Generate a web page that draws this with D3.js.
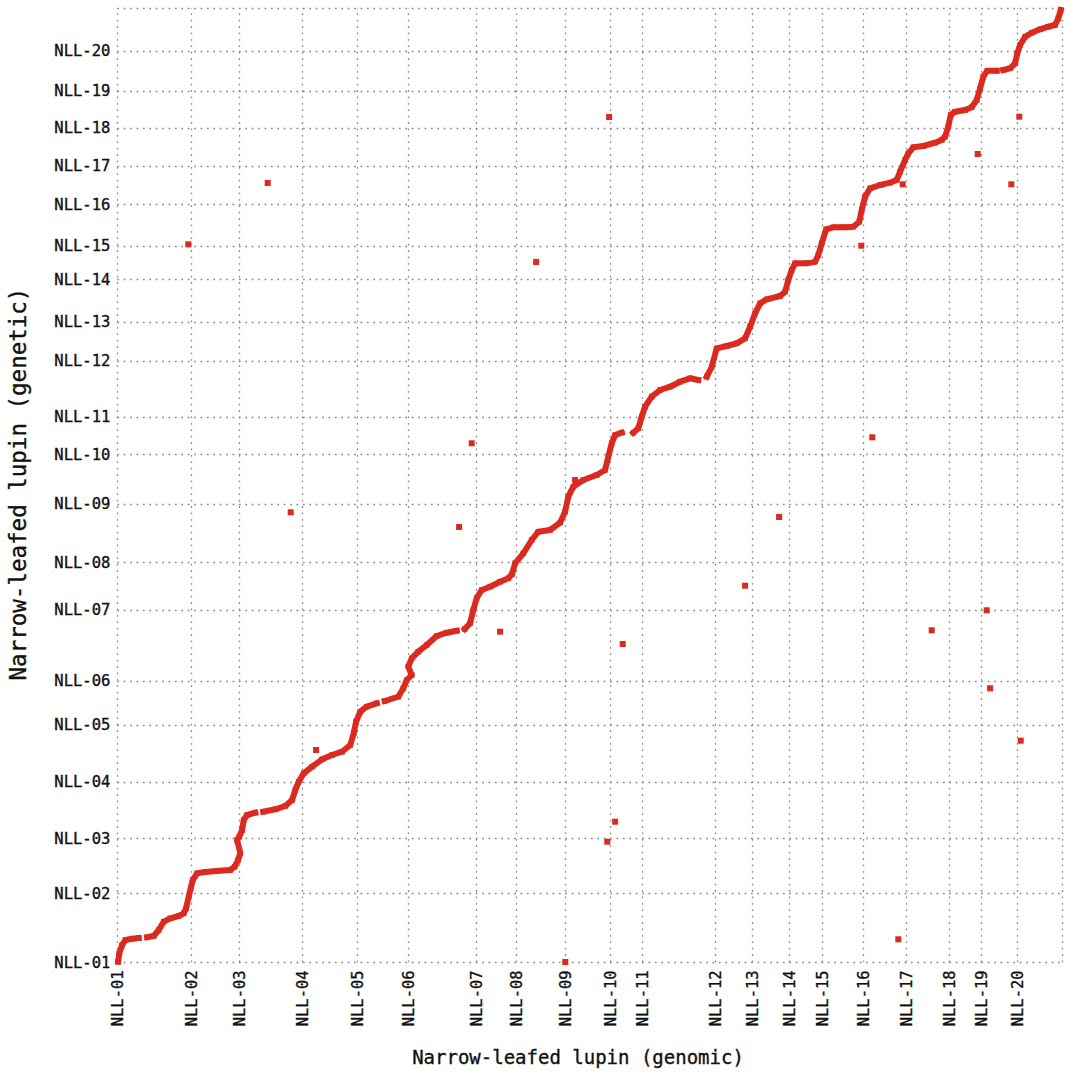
<!DOCTYPE html>
<html>
<head>
<meta charset="utf-8">
<title>Narrow-leafed lupin: genomic vs genetic</title>
<script src="https://cdn.jsdelivr.net/npm/d3@7"></script>
<style>
  body { margin: 0; background: #fff; }
  svg { display: block; }
  text { font-family: "DejaVu Sans Mono", "Liberation Mono", monospace; fill: #111; stroke: #111; stroke-width: 0.35px; }
</style>
</head>
<body>
<svg id="chart" width="1066" height="1072"></svg>
<script>
// Chromosome / linkage group names (same names on both axes)
const chromosomeNames = [
  "NLL-01","NLL-02","NLL-03","NLL-04","NLL-05","NLL-06","NLL-07","NLL-08","NLL-09","NLL-10",
  "NLL-11","NLL-12","NLL-13","NLL-14","NLL-15","NLL-16","NLL-17","NLL-18","NLL-19","NLL-20"
];

// Pseudochromosome sizes (Mb), genomic axis
const genomicLengthsMb = [
  36.9, 24.1, 31.2, 27.5, 25.8, 33.9, 20.0, 24.6, 22.4, 16.1,
  36.4, 18.6, 18.5, 16.2, 20.5, 21.5, 21.5, 16.1, 18.2, 22.2
];

// Linkage group lengths (cM), genetic axis
const geneticLengthsCM = [
  138.0, 110.0, 113.2, 113.4, 88.6, 141.4, 95.4, 117.2, 98.8, 74.6,
  112.0, 78.6, 84.8, 67.2, 82.8, 76.6, 76.6, 74.0, 80.0, 84.8
];

// Collinear markers: [position along concatenated pseudochromosomes (Mb),
// position along concatenated linkage map (cM)]; null separates marker runs
const collinearMarkers = [
  [0.4,1.2],[1.0,18.0],[2.4,34.6],[4.0,44.6],[7.4,47.2],[10.7,48.6], null,
  [14.9,50.0],[18.2,52.6],[20.7,64.6],[23.2,81.2],[26.5,88.0],[30.7,92.6],[33.2,98.0],[34.4,108.0],
  [35.7,131.2],[36.7,148.0],[37.7,164.6],[39.9,178.0],[44.0,180.6],[50.7,183.2],[56.5,184.6],[58.7,191.2],
  [60.4,204.6],[61.5,218.0],[59.9,244.6],[61.0,251.2],[62.4,264.6],[63.2,284.6],[64.9,294.6],[69.0,299.2], null,
  [73.0,301.2],[79.0,306.0],[84.0,312.6],[87.4,324.6],[89.0,344.6],[90.7,361.2],[93.2,378.0],[97.4,391.2],
  [102.4,406.0],[107.4,414.6],[112.4,421.2],[116.5,434.6],[118.2,458.0],[119.4,481.2],[121.5,501.2],
  [124.7,511.2],[129.7,518.0], null,
  [133.7,522.6],[140.5,531.2],[143.0,548.0],[144.7,564.6],[147.2,574.6],[145.5,591.2],[147.2,608.0],
  [150.5,621.2],[154.7,634.6],[159.7,652.6],[164.7,659.2],[169.7,663.2], null,
  [173.7,666.6],[176.4,678.0],[178.0,704.6],[179.7,728.6],[182.2,744.6],[186.4,751.2],[191.4,761.2],
  [195.5,768.0],[197.4,776.6],[198.9,798.0],[203.0,818.0],[207.2,844.6],[210.5,861.2],[216.4,864.6],
  [221.4,879.2],[223.9,901.2],[225.5,931.2],[228.0,951.2],[233.0,964.6],[239.7,974.6],[243.9,984.6],
  [245.5,1011.2],[247.2,1038.0],[248.9,1054.6],[252.2,1059.2], null,
  [258.0,1059.2],[260.5,1068.0],[262.2,1091.2],[263.9,1111.2],[267.2,1131.2],[271.4,1144.6],[276.4,1151.2],
  [281.4,1161.2],[286.4,1168.0],[290.5,1164.6], null,
  [294.7,1171.2],[297.2,1190.6],[299.7,1228.0],[304.7,1232.6],[309.7,1238.0],[313.9,1248.0],[316.4,1271.2],
  [318.9,1298.0],[321.4,1318.0],[324.7,1326.0],[331.4,1332.6],[333.9,1341.2],[335.5,1364.6],[337.2,1384.6],
  [338.9,1398.0],[344.7,1398.0],[348.9,1401.2],[350.5,1414.6],[352.2,1438.0],[354.4,1466.0],[358.0,1470.0],
  [362.0,1470.0],[365.0,1470.0],[368.0,1471.2],[371.0,1481.2],[372.2,1504.6],[373.9,1531.2],[376.4,1548.0],
  [381.4,1554.6],[386.4,1559.2],[389.7,1564.6],[391.4,1581.2],[393.9,1604.6],[395.5,1618.0],[398.0,1630.0],
  [403.0,1632.6],[408.9,1639.2],[412.2,1644.6],[413.9,1651.2],[415.5,1671.2],[416.7,1694.6],[418.9,1701.2],
  [423.9,1704.6],[427.2,1710.0],[429.7,1724.6],[431.4,1748.0],[433.0,1771.2],[435.0,1783.2],[439.7,1783.2], null,
  [443.0,1784.6],[446.4,1788.0],[448.9,1798.0],[450.0,1818.0],[451.4,1834.6],[453.9,1851.2],[457.2,1859.2],
  [461.4,1866.0],[465.5,1871.2],[468.9,1874.6],[470.5,1888.0],[471.7,1904.6]
];

// Markers mapped away from their collinear block: [Mb, cM]
const scatteredMarkers = [
  [35.5,1436.0],[75.2,1558.6],[86.7,900.0],[99.4,424.6],[170.9,870.6],[177.2,1038.0],[191.4,661.2],
  [209.4,1400.6],[224.0,0.6],[245.9,1690.6],[245.0,241.2],[248.9,281.2],[252.7,636.6],[228.9,964.6],
  [313.9,753.2],[330.9,890.6],[372.0,1433.2],[377.5,1050.0],[392.7,1556.0],[390.5,46.0],[407.2,664.0],
  [430.2,1616.6],[447.0,1556.0],[451.0,1691.2],[434.7,704.0],[436.4,548.0],[451.7,443.2]
];

const xTitle = "Narrow-leafed lupin (genomic)";
const yTitle = "Narrow-leafed lupin (genetic)";

// ---- layout ----
const W = 1066, H = 1072;
const plot = { left: 117.3, right: 1061.7, top: 8.3, bottom: 962.3 };
const markColor = "#dc2a1f";
const gridColor = "#8a8a8a";

const xStarts = [0, ...d3.cumsum(genomicLengthsMb)];
const yStarts = [0, ...d3.cumsum(geneticLengthsCM)];

const x = d3.scaleLinear().domain([0, xStarts[xStarts.length - 1]]).range([plot.left, plot.right]);
const y = d3.scaleLinear().domain([0, yStarts[yStarts.length - 1]]).range([plot.bottom, plot.top]);

const svg = d3.select("#chart");
svg.append("rect").attr("width", W).attr("height", H).attr("fill", "#fff");

// dotted grid at every chromosome / linkage group boundary
const grid = svg.append("g")
  .attr("stroke", gridColor)
  .attr("stroke-width", 1.3)
  .attr("stroke-dasharray", "1.8,4.6");

grid.selectAll("line.v").data(xStarts).join("line")
  .attr("class", "v")
  .attr("x1", d => Math.round(x(d)) + 0.5).attr("x2", d => Math.round(x(d)) + 0.5)
  .attr("y1", plot.bottom).attr("y2", plot.top);

grid.selectAll("line.h").data(yStarts).join("line")
  .attr("class", "h")
  .attr("y1", d => Math.round(y(d)) + 0.5).attr("y2", d => Math.round(y(d)) + 0.5)
  .attr("x1", plot.left).attr("x2", plot.right);

// axes (labels only; the grid carries the lines)
const xAxis = d3.axisBottom(x)
  .tickValues(xStarts.slice(0, chromosomeNames.length))
  .tickFormat((d, i) => chromosomeNames[i])
  .tickSize(0);

const gx = svg.append("g")
  .attr("transform", `translate(0,${plot.bottom})`)
  .call(xAxis);
gx.select(".domain").remove();
gx.selectAll("text")
  .attr("font-size", 15.5)
  .attr("font-family", null)
  .attr("transform", "rotate(-90)")
  .attr("text-anchor", "end")
  .attr("x", -8)
  .attr("y", 0)
  .attr("dy", "0.35em");

const yAxis = d3.axisLeft(y)
  .tickValues(yStarts.slice(0, chromosomeNames.length))
  .tickFormat((d, i) => chromosomeNames[i])
  .tickSize(0)
  .tickPadding(7);

const gy = svg.append("g")
  .attr("transform", `translate(${plot.left},0)`)
  .call(yAxis);
gy.select(".domain").remove();
gy.selectAll("text").attr("font-size", 15.5).attr("font-family", null);

// collinear marker runs
const line = d3.line()
  .defined(d => d !== null)
  .x(d => x(d[0]))
  .y(d => y(d[1]));

svg.append("path")
  .datum(collinearMarkers)
  .attr("d", line)
  .attr("fill", "none")
  .attr("stroke", markColor)
  .attr("stroke-width", 6)
  .attr("stroke-linejoin", "round")
  .attr("stroke-linecap", "square");

const s = 5.5;
svg.append("g").attr("fill", markColor)
  .selectAll("rect").data(collinearMarkers.filter(d => d !== null)).join("rect")
  .attr("x", d => x(d[0]) - s / 2).attr("y", d => y(d[1]) - s / 2)
  .attr("width", s).attr("height", s);

const so = 6;
svg.append("g").attr("fill", markColor)
  .selectAll("rect").data(scatteredMarkers).join("rect")
  .attr("x", d => x(d[0]) - so / 2).attr("y", d => y(d[1]) - so / 2)
  .attr("width", so).attr("height", so);

// axis titles
svg.append("text")
  .attr("x", 578)
  .attr("y", 1064)
  .attr("text-anchor", "middle")
  .attr("font-size", 19)
  .text(xTitle);

svg.append("text")
  .attr("transform", `translate(18,${484}) rotate(-90)`)
  .attr("text-anchor", "middle")
  .attr("dy", "0.35em")
  .attr("font-size", 22.5)
  .text(yTitle);
</script>
</body>
</html>
